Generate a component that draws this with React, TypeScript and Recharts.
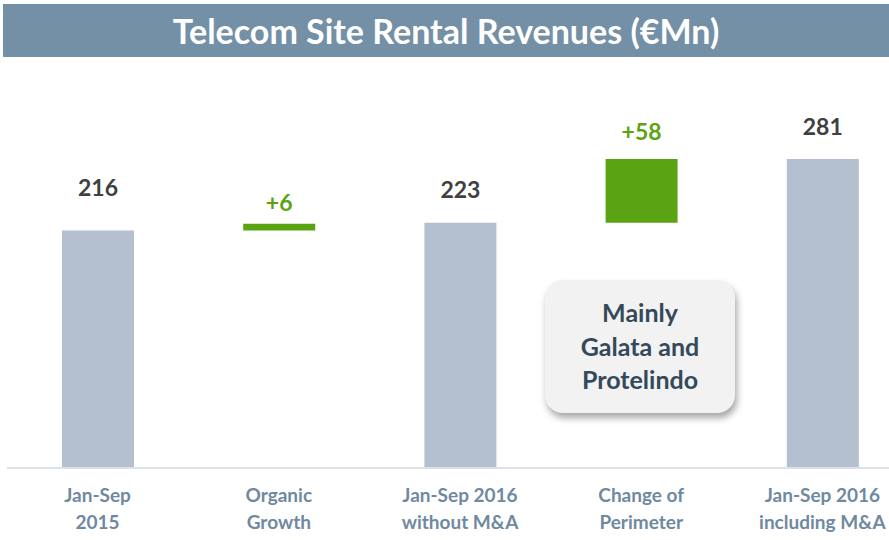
import { BarChart, Bar, XAxis, YAxis, Cell, LabelList } from "recharts";

const CATEGORIES = [
  "Jan-Sep\n2015",
  "Organic\nGrowth",
  "Jan-Sep 2016\nwithout M&A",
  "Change of\nPerimeter",
  "Jan-Sep 2016\nincluding M&A",
];

// hidden base for floating steps
const BASES = [0, 216, 0, 223, 0];
const VALUES = [216, 6, 223, 58, 281];
const LABELS = ["216", "+6", "223", "+58", "281"];
const IS_STEP = [false, true, false, true, false];

const NOTE_LINES = ["Mainly", "Galata and", "Protelindo"];

const GREY = "#b4c0cf";
const GREEN = "#5aa313";
const LABEL_LIFT = [43, 22, 34, 28, 33];

const data = CATEGORIES.map((name, i) => ({
  name,
  base: BASES[i],
  value: VALUES[i],
  label: LABELS[i],
  step: IS_STEP[i],
}));

function CategoryTick(props: any) {
  const { x, payload } = props;
  const lines = String(payload.value).split("\n");
  return (
    <text
      x={x}
      y={502}
      textAnchor="middle"
      fill="#7089a0"
      fontSize={19}
      fontWeight={700}
      fontFamily="Lato"
    >
      {lines.map((line, i) => (
        <tspan key={i} x={x} dy={i === 0 ? 0 : 27}>
          {line}
        </tspan>
      ))}
    </text>
  );
}

function ValueLabel(props: any) {
  const { x, y, width, index } = props;
  const d = data[index];
  return (
    <text
      x={x + width / 2}
      y={y - LABEL_LIFT[index]}
      textAnchor="middle"
      dominantBaseline="central"
      fill={d.step ? GREEN : "#404040"}
      fontSize={23}
      fontWeight={700}
      fontFamily="Lato"
    >
      {d.label}
    </text>
  );
}

export default function App() {
  return (
    <div
      style={{
        position: "absolute",
        left: 0,
        top: 0,
        width: 889,
        height: 540,
        overflow: "hidden",
        background: "#ffffff",
        fontFamily: "Lato",
      }}
    >
      {/* title band */}
      <div
        style={{
          position: "absolute",
          left: 3,
          top: 4,
          width: 886,
          height: 53,
          background: "#7490a6",
          color: "#ffffff",
          fontSize: 34,
          fontWeight: 700,
          lineHeight: "53px",
          textAlign: "center",
        }}
      >
        Telecom Site Rental Revenues (€Mn)
      </div>

      <div style={{ position: "absolute", left: 0, top: 0 }}>
        <BarChart
          width={913}
          height={540}
          data={data}
          margin={{ top: 138, right: 0, left: 7, bottom: 0 }}
        >
          <XAxis
            dataKey="name"
            height={72}
            tickLine={false}
            axisLine={{ stroke: "#dbe1e8", strokeWidth: 2 }}
            tick={<CategoryTick />}
            interval={0}
          />
          <YAxis hide domain={[0, 300]} />
          <Bar
            dataKey="base"
            stackId="w"
            fill="transparent"
            barSize={72}
            isAnimationActive={false}
          />
          <Bar
            dataKey="value"
            stackId="w"
            barSize={72}
            isAnimationActive={false}
          >
            {data.map((d, i) => (
              <Cell key={i} fill={d.step ? GREEN : GREY} />
            ))}
            <LabelList dataKey="label" content={<ValueLabel />} />
          </Bar>
        </BarChart>
      </div>

      {/* callout */}
      <div
        style={{
          position: "absolute",
          left: 545,
          top: 280,
          width: 190,
          height: 133,
          borderRadius: 18,
          background: "#f2f2f2",
          boxShadow: "2px 5px 7px rgba(0,0,0,0.35)",
          color: "#34495a",
          fontSize: 25,
          fontWeight: 700,
          lineHeight: "33.5px",
          textAlign: "center",
          display: "flex",
          flexDirection: "column",
          justifyContent: "center",
        }}
      >
        {NOTE_LINES.map((line, i) => (
          <div key={i}>{line}</div>
        ))}
      </div>
    </div>
  );
}
